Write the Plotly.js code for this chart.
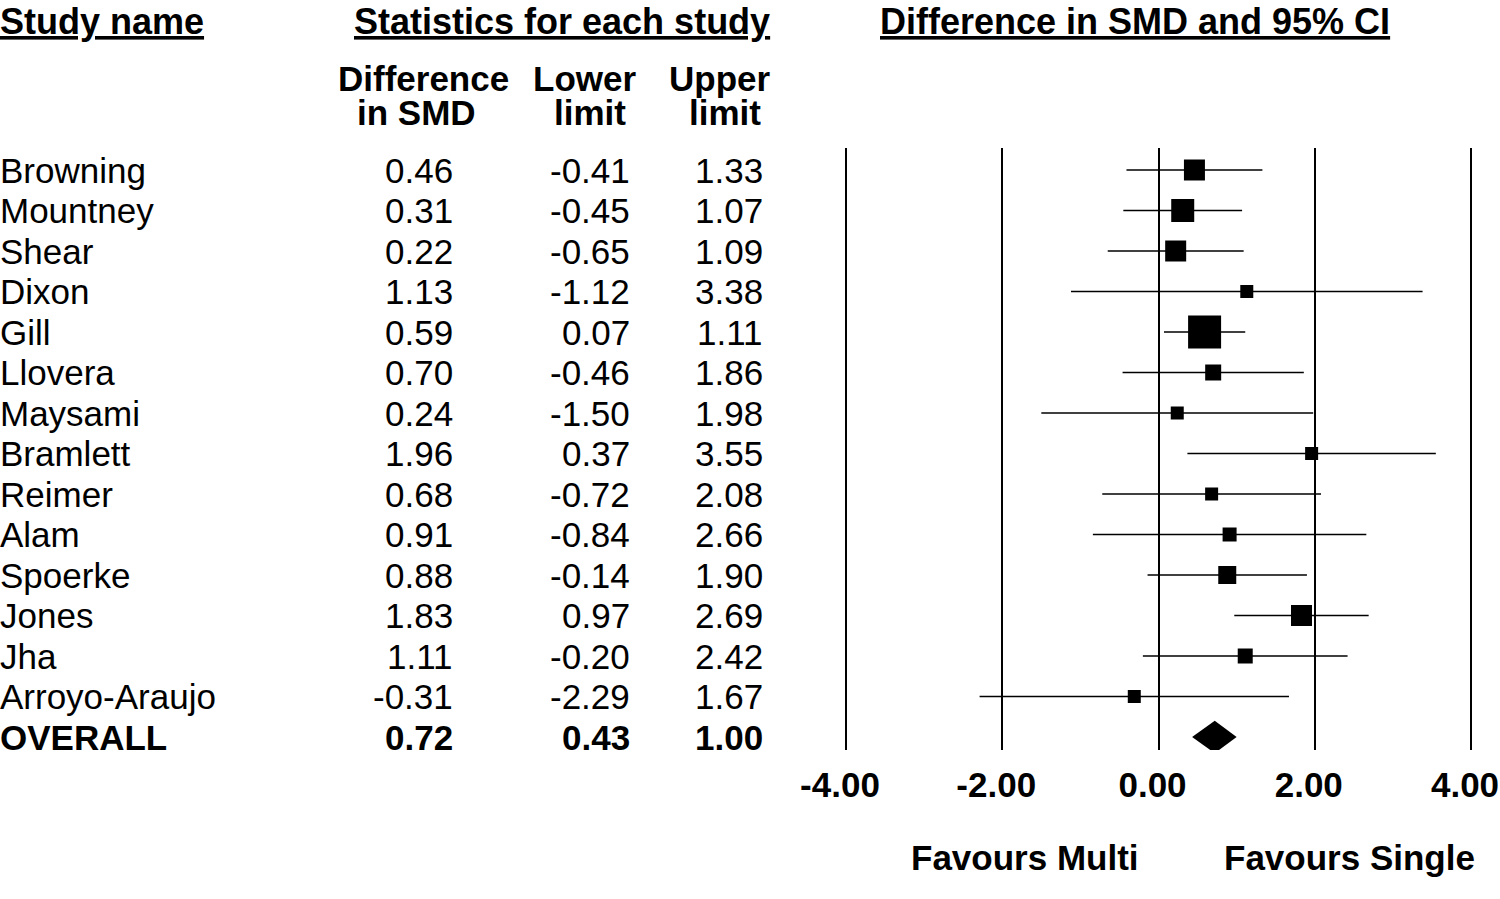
<!DOCTYPE html>
<html>
<head>
<meta charset="utf-8">
<script src="https://cdn.plot.ly/plotly-3.0.1.min.js"></script>
<style>html,body{margin:0;padding:0;background:#fff;}#chart{width:1500px;height:899px;}</style>
</head>
<body>
<div id="chart"></div>
<script>
const studies = ["Browning","Mountney","Shear","Dixon","Gill","Llovera","Maysami","Bramlett","Reimer","Alam","Spoerke","Jones","Jha","Arroyo-Araujo"];
const smd   = [0.46, 0.31, 0.22, 1.13, 0.59, 0.70, 0.24, 1.96, 0.68, 0.91, 0.88, 1.83, 1.11, -0.31];
const lower = [-0.41, -0.45, -0.65, -1.12, 0.07, -0.46, -1.50, 0.37, -0.72, -0.84, -0.14, 0.97, -0.20, -2.29];
const upper = [1.33, 1.07, 1.09, 3.38, 1.11, 1.86, 1.98, 3.55, 2.08, 2.66, 1.90, 2.69, 2.42, 1.67];
const markerSizes = [21, 23, 21, 13, 33, 16, 13, 13, 13, 14, 18, 21, 15, 13];
const overallLabel = "OVERALL";
const overallSmd = 0.72, overallLower = 0.43, overallUpper = 1.00;
const tickVals = [-4, -2, 0, 2, 4];
const tickLabels = ["-4.00", "-2.00", "0.00", "2.00", "4.00"];

const FONT = "Liberation Sans, Arial, Helvetica, sans-serif";
const FS = 35;
const W = 1500, H = 899;
const px = v => v / W;          // pixel x -> paper x
const py = v => 1 - v / H;      // pixel y -> paper y

const rows = studies.map((_, i) => i);
const overallRow = studies.length;

const traces = [
  {
    type: "scatter", mode: "markers", x: smd, y: rows,
    marker: {symbol: "square", size: markerSizes, color: "black", opacity: 1, line: {width: 0}},
    error_x: {
      type: "data", symmetric: false,
      array: upper.map((u, i) => u - smd[i]),
      arrayminus: lower.map((l, i) => smd[i] - l),
      color: "black", thickness: 1.7, width: 0
    },
    hoverinfo: "skip", showlegend: false, cliponaxis: false
  },
  {
    type: "scatter", mode: "lines",
    x: [overallLower, overallSmd, overallUpper, overallSmd, overallLower],
    y: [overallRow, overallRow - 0.4, overallRow, overallRow + 0.4, overallRow],
    fill: "toself", fillcolor: "black", line: {width: 0, color: "black"},
    hoverinfo: "skip", showlegend: false
  }
];

const ann = [];
function addText(text, xPix, yRef, y, anchor, bold, size) {
  const shift = anchor === "left" ? -2 : (anchor === "right" ? 2 : 0);
  ann.push({
    text: text, x: px(xPix + shift), xref: "paper", y: y, yref: yRef,
    xanchor: anchor, yanchor: "middle", showarrow: false,
    font: {family: FONT, size: size || FS, color: "black", weight: bold ? "bold" : "normal"}
  });
}
// header
addText("<u>Study name</u>", 0, "paper", py(22), "left", true, 36);
addText("<u>Statistics for each study</u>", 561.5, "paper", py(22), "center", true, 36);
addText("<u>Difference in SMD and 95% CI</u>", 1135, "paper", py(22), "center", true, 36);
addText("Difference", 423.5, "paper", py(78), "center", true);
addText("in SMD", 416.5, "paper", py(113), "center", true);
addText("Lower", 584, "paper", py(78), "center", true);
addText("limit", 589.5, "paper", py(113), "center", true);
addText("Upper", 719.5, "paper", py(78), "center", true);
addText("limit", 725, "paper", py(113), "center", true);
// rows
studies.forEach((s, i) => {
  addText(s, 0, "y", i, "left", false);
  addText(smd[i].toFixed(2), 453, "y", i, "right", false);
  addText(lower[i].toFixed(2), 630, "y", i, "right", false);
  addText(upper[i].toFixed(2), 763, "y", i, "right", false);
});
addText(overallLabel, 0, "y", overallRow, "left", true);
addText(overallSmd.toFixed(2), 453, "y", overallRow, "right", true);
addText(overallLower.toFixed(2), 630, "y", overallRow, "right", true);
addText(overallUpper.toFixed(2), 763, "y", overallRow, "right", true);
// favours
addText("Favours Multi", 1025, "paper", py(857), "center", true);
addText("Favours Single", 1349.5, "paper", py(857), "center", true);

const rowTop = 170, rowStep = 40.5, plotTop = 148, plotBottom = 750;
const x0Pix = 846, x4Pix = 1471, pad = 0.05;
const unitPix = (x4Pix - x0Pix) / 8;

const layout = {
  width: W, height: H,
  margin: {l: 0, r: 0, t: 0, b: 0, pad: 0},
  paper_bgcolor: "white", plot_bgcolor: "white",
  showlegend: false,
  xaxis: {
    domain: [px(x0Pix - pad * unitPix), px(x4Pix + pad * unitPix)], range: [-4 - pad, 4 + pad],
    tickvals: tickVals, ticktext: tickLabels,
    tickfont: {family: FONT, size: FS, color: "black", weight: "bold"},
    ticks: "", ticklabelstandoff: 11, ticklabelshift: -6, ticklabeloverflow: "allow",
    showgrid: true, gridcolor: "black", gridwidth: 2,
    zeroline: false, showline: false, fixedrange: true
  },
  yaxis: {
    domain: [1 - plotBottom / H, 1 - plotTop / H],
    range: [(plotBottom - rowTop) / rowStep, (plotTop - rowTop) / rowStep],
    showgrid: false, zeroline: false, showticklabels: false, ticks: "",
    showline: false, fixedrange: true
  },
  annotations: ann
};

Plotly.newPlot("chart", traces, layout, {displayModeBar: false, staticPlot: true});
</script>
</body>
</html>
